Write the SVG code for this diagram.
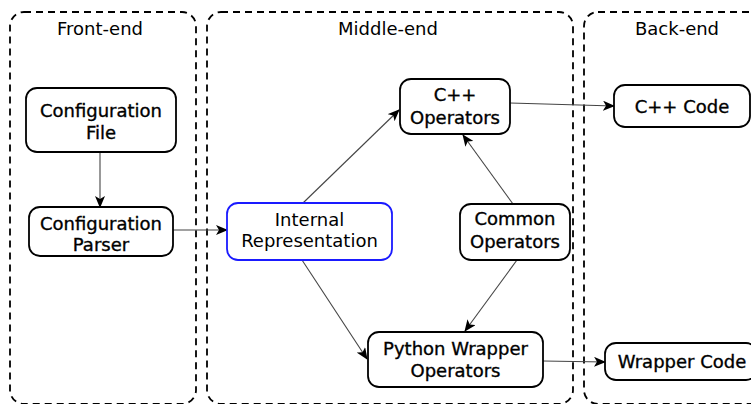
<svg xmlns="http://www.w3.org/2000/svg" width="751" height="404" viewBox="0 0 751 404">
<defs>
<marker id="arr" viewBox="0 0 12 10" refX="11" refY="5" markerWidth="12" markerHeight="10" markerUnits="userSpaceOnUse" orient="auto">
<path d="M0,0 L12,5 L0,10 L3,5 Z" fill="#000"/>
</marker>
</defs>
<style>
.zone{fill:none;stroke:#000;stroke-width:1.8;stroke-dasharray:7,5}
.node{fill:#fff;stroke:#000;stroke-width:1.8}
.blue{fill:#fff;stroke:#1a1aff;stroke-width:1.8}
.t{font-family:"DejaVu Sans",sans-serif;font-size:18px;fill:#000;text-anchor:middle}
.h{stroke:#000;stroke-width:0.35}
.c{fill:none;stroke:#444;stroke-width:1.1}
</style>
<rect x="0" y="0" width="751" height="404" fill="#fff"/>
<g id="front-end">
<rect class="zone" x="10" y="12" width="186" height="392" rx="14"/>
<text class="t" x="100" y="35">Front-end</text>
</g>
<g id="middle-end">
<rect class="zone" x="207" y="12" width="366" height="392" rx="14"/>
<text class="t" x="388" y="35">Middle-end</text>
</g>
<g id="back-end">
<rect class="zone" x="584" y="12" width="190" height="392" rx="14"/>
<text class="t" x="677" y="35">Back-end</text>
</g>
<g id="connectors">
<line class="c" x1="100" y1="152" x2="100" y2="207" marker-end="url(#arr)"/>
<line class="c" x1="173" y1="230" x2="227" y2="230" marker-end="url(#arr)"/>
<line class="c" x1="303" y1="203" x2="399" y2="110" marker-end="url(#arr)"/>
<line class="c" x1="513" y1="204" x2="463" y2="135" marker-end="url(#arr)"/>
<line class="c" x1="302" y1="260" x2="367" y2="359" marker-end="url(#arr)"/>
<line class="c" x1="517" y1="260" x2="465" y2="331" marker-end="url(#arr)"/>
<line class="c" x1="510" y1="103" x2="614" y2="106" marker-end="url(#arr)"/>
<line class="c" x1="543" y1="361" x2="605" y2="362" marker-end="url(#arr)"/>
</g>
<g id="config-file">
<rect class="node" x="26" y="88" width="150" height="64" rx="11"/>
<text class="t h" x="101" y="117">Configuration</text>
<text class="t h" x="101" y="139">File</text>
</g>
<g id="config-parser">
<rect class="node" x="29" y="207" width="144" height="49" rx="11"/>
<text class="t h" x="101" y="230">Configuration</text>
<text class="t h" x="101" y="251">Parser</text>
</g>
<g id="internal-representation">
<rect class="blue" x="227" y="203" width="165" height="57" rx="11"/>
<text class="t" x="309.5" y="226">Internal</text>
<text class="t" x="309.5" y="247">Representation</text>
</g>
<g id="cpp-operators">
<rect class="node" x="400" y="79" width="110" height="55" rx="11"/>
<text class="t h" x="455" y="101">C++</text>
<text class="t h" x="455" y="124">Operators</text>
</g>
<g id="common-operators">
<rect class="node" x="460" y="204" width="110" height="56" rx="11"/>
<text class="t h" x="515" y="225">Common</text>
<text class="t h" x="515" y="248">Operators</text>
</g>
<g id="python-wrapper-operators">
<rect class="node" x="368" y="332" width="175" height="55" rx="11"/>
<text class="t h" x="455.5" y="355">Python Wrapper</text>
<text class="t h" x="455.5" y="377">Operators</text>
</g>
<g id="cpp-code">
<rect class="node" x="614" y="85" width="136" height="42" rx="11"/>
<text class="t h" x="682" y="113">C++ Code</text>
</g>
<g id="wrapper-code">
<rect class="node" x="605" y="343" width="152" height="37" rx="11"/>
<text class="t h" x="682" y="368">Wrapper Code</text>
</g>
</svg>
